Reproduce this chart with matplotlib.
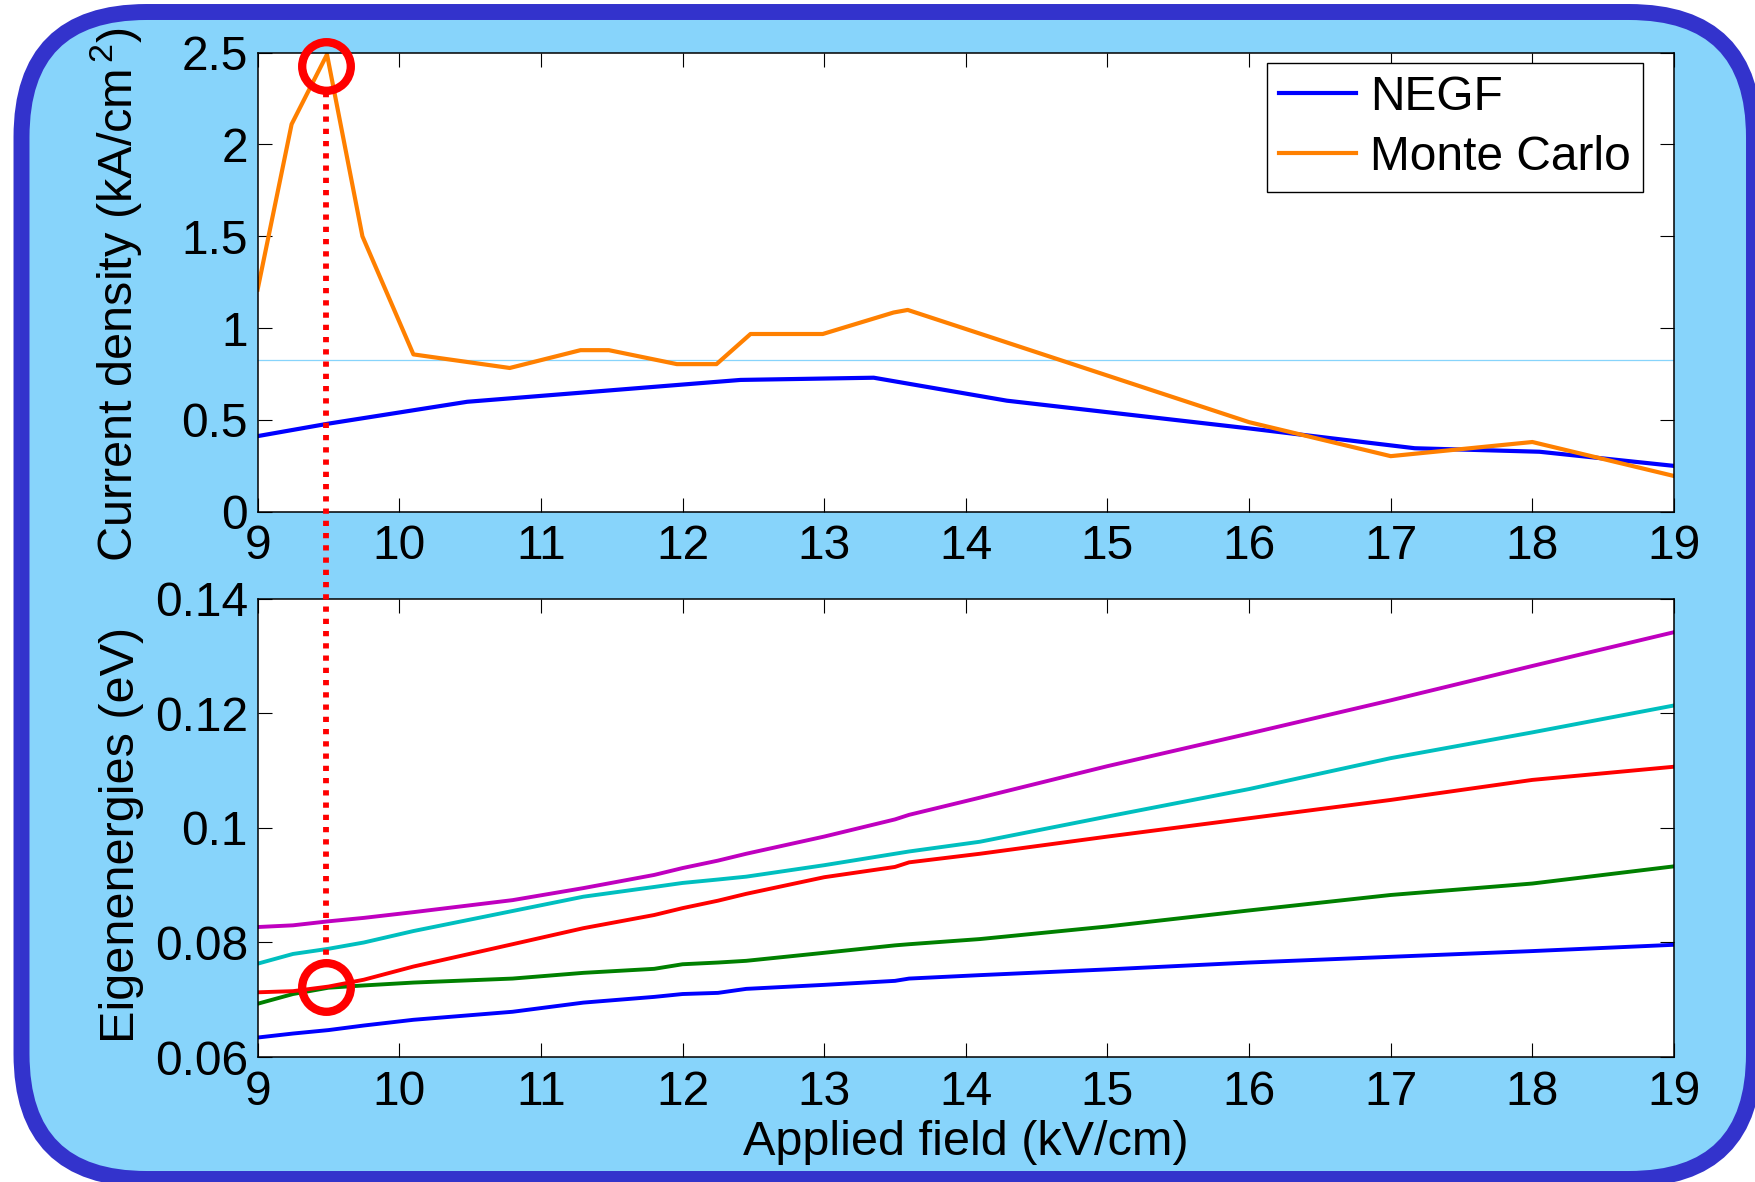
import matplotlib
matplotlib.use("Agg")
import matplotlib.pyplot as plt
from matplotlib.patches import FancyBboxPatch
from matplotlib.lines import Line2D

plt.rcParams["font.family"] = ["Liberation Sans", "DejaVu Sans"]
plt.rcParams["mathtext.fontset"] = "custom"
plt.rcParams["mathtext.rm"] = "Liberation Sans"
plt.rcParams["mathtext.it"] = "Liberation Sans:italic"
plt.rcParams["mathtext.bf"] = "Liberation Sans:bold"

# current density (kA/cm^2) vs applied field (kV/cm)
negf_field = [9.0, 9.5, 10.48, 12.41, 13.35, 14.29, 16.0, 17.17, 18.05, 19.0]
negf_current = [0.412, 0.48, 0.599, 0.718, 0.730, 0.605, 0.454, 0.346, 0.327, 0.25]

mc_field = [9.0, 9.24, 9.49, 9.74, 10.1, 10.78, 11.28, 11.48, 11.96, 12.24, 12.48,
            12.99, 13.49, 13.59, 14.1, 16.0, 17.0, 18.0, 19.0]
mc_current = [1.21, 2.11, 2.49, 1.50, 0.857, 0.783, 0.88, 0.88, 0.804, 0.804, 0.968,
              0.968, 1.085, 1.099, 0.97, 0.488, 0.303, 0.38, 0.195]

reference_current = 0.826

# eigenenergies (eV) vs applied field
field = [9.0, 9.25, 9.5, 9.75, 10.1, 10.8, 11.3, 11.8, 12.0, 12.25, 12.45,
         13.0, 13.5, 13.6, 14.1, 15.0, 16.0, 17.0, 18.0, 19.0]
e1 = [0.0634, 0.0641, 0.0647, 0.0655, 0.0665, 0.0679, 0.0695, 0.0705, 0.0710, 0.0712,
      0.0719, 0.0726, 0.0733, 0.0737, 0.0743, 0.0753, 0.0765, 0.0775, 0.0785, 0.0796]
e2 = [0.0693, 0.0710, 0.0721, 0.0725, 0.0730, 0.0737, 0.0747, 0.0754, 0.0762, 0.0765,
      0.0768, 0.0782, 0.0795, 0.0797, 0.0806, 0.0828, 0.0856, 0.0883, 0.0903, 0.0933]
e3 = [0.0713, 0.0715, 0.0723, 0.0735, 0.0758, 0.0797, 0.0825, 0.0848, 0.0860, 0.0873,
      0.0885, 0.0914, 0.0932, 0.0940, 0.0955, 0.0985, 0.1017, 0.1049, 0.1084, 0.1107]
e4 = [0.0763, 0.0780, 0.0789, 0.0800, 0.0820, 0.0855, 0.0880, 0.0897, 0.0904, 0.0910,
      0.0915, 0.0935, 0.0955, 0.0959, 0.0976, 0.1020, 0.1068, 0.1122, 0.1167, 0.1214]
e5 = [0.0827, 0.0830, 0.0837, 0.0843, 0.0853, 0.0874, 0.0895, 0.0918, 0.0930, 0.0943,
      0.0955, 0.0985, 0.1015, 0.1023, 0.1053, 0.1108, 0.1165, 0.1223, 0.1283, 0.1342]

levels = [e1, e2, e3, e4, e5]
level_colors = ["#0000FF", "#008000", "#FF0000", "#00BFBF", "#BF00BF"]

# highlighted operating point
highlight_field = 9.48
highlight_current = 2.426
highlight_energy = 0.0722
dots_from_current = 2.286
dots_to_energy = 0.0775

x_ticks = list(range(9, 20))
j_ticks = [0, 0.5, 1, 1.5, 2, 2.5]
j_labels = ["0", "0.5", "1", "1.5", "2", "2.5"]
e_ticks = [0.06, 0.08, 0.10, 0.12, 0.14]
e_labels = ["0.06", "0.08", "0.1", "0.12", "0.14"]

BG = "#87D4FB"

fig = plt.figure(figsize=(17.56, 11.82), dpi=100, facecolor="white")

frame = FancyBboxPatch((0.215, 0.03), 17.325, 11.67,
                       boxstyle="round,pad=0,rounding_size=1.25",
                       transform=fig.dpi_scale_trans, facecolor=BG,
                       edgecolor="#3333CC", linewidth=11.5, zorder=-1)
fig.add_artist(frame)

ax1 = fig.add_axes([0.1467, 0.5670, 0.8066, 0.3885])
ax2 = fig.add_axes([0.1467, 0.10575, 0.8066, 0.3875])


def style_axes(ax):
    ax.set_facecolor("white")
    ax.set_xlim(9, 19)
    ax.set_xticks(x_ticks)
    ax.tick_params(direction="in", length=10, width=0.8, top=True, right=True,
                   labelsize=34.5)
    ax.tick_params(axis="x", pad=9)
    ax.tick_params(axis="y", pad=7)
    for s in ax.spines.values():
        s.set_linewidth(1.1)


style_axes(ax1)
ax1.axhline(reference_current, color=BG, lw=0.9, zorder=1)
ax1.plot(negf_field, negf_current, color="#0000FF", lw=3.0, label="NEGF")
ax1.plot(mc_field, mc_current, color="#FF8000", lw=3.0, label="Monte Carlo")
ax1.set_ylim(0, 2.5)
ax1.set_yticks(j_ticks)
ax1.set_yticklabels(j_labels)
ax1.set_ylabel(r"Current density (kA/cm$^{\,2}$)", fontsize=35)
ax1.yaxis.set_label_coords(-0.080, 0.473)
leg = ax1.legend(loc="upper right", bbox_to_anchor=(0.978, 0.978), fontsize=34.5,
                 fancybox=False, edgecolor="black", framealpha=1, borderaxespad=0,
                 handlelength=1.6, handletextpad=0.3, labelspacing=0.32,
                 borderpad=0.25)
leg.get_frame().set_linewidth(1.0)
ax1.plot([highlight_field], [highlight_current], "o", ms=35, mfc="none", mec="red",
         mew=6, clip_on=False, zorder=6)

style_axes(ax2)
for vals, c in zip(levels, level_colors):
    ax2.plot(field, vals, color=c, lw=2.8)
ax2.set_ylim(0.06, 0.14)
ax2.set_yticks(e_ticks)
ax2.set_yticklabels(e_labels)
ax2.set_ylabel("Eigenenergies (eV)", fontsize=35)
ax2.yaxis.set_label_coords(-0.080, 0.485)
ax2.set_xlabel("Applied field (kV/cm)", fontsize=35)
ax2.xaxis.set_label_coords(0.5, -0.138)
ax2.plot([highlight_field], [highlight_energy], "o", ms=35, mfc="none", mec="red",
         mew=6, clip_on=False, zorder=6)

# dotted guide linking the two highlighted points across the panels
to_fig = fig.transFigure.inverted()
p_top = to_fig.transform(ax1.transData.transform((highlight_field, dots_from_current)))
p_bot = to_fig.transform(ax2.transData.transform((highlight_field, dots_to_energy)))
guide = Line2D([p_top[0], p_bot[0]], [p_top[1], p_bot[1]], transform=fig.transFigure,
               color="red", lw=4.2, linestyle=(0, (0.9, 1.2)), dash_capstyle="butt",
               zorder=5)
fig.add_artist(guide)

fig.savefig("out.png", dpi=100, facecolor="white")
